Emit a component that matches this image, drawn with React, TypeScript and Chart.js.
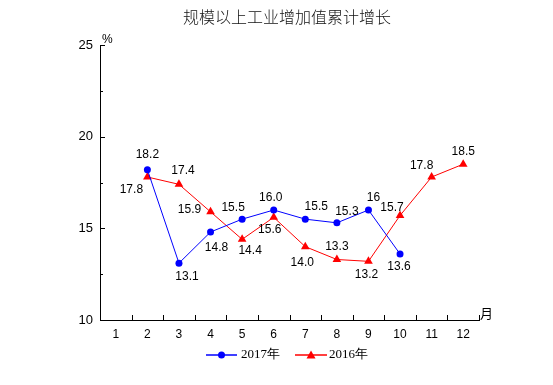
import React, { useEffect, useRef } from "react";
import { Chart, registerables } from "chart.js";

Chart.register(...registerables);

const months = ["1", "2", "3", "4", "5", "6", "7", "8", "9", "10", "11", "12"];
const values2017: (number | null)[] = [null, 18.2, 13.1, 14.8, 15.5, 16.0, 15.5, 15.3, 16, 13.6, null, null];
const values2016: (number | null)[] = [null, 17.8, 17.4, 15.9, 14.4, 15.6, 14.0, 13.3, 13.2, 15.7, 17.8, 18.5];
const labels2017: (string | null)[] = [null, "18.2", "13.1", "14.8", "15.5", "16.0", "15.5", "15.3", "16", "13.6", null, null];
const labels2016: (string | null)[] = [null, "17.8", "17.4", "15.9", "14.4", "15.6", "14.0", "13.3", "13.2", "15.7", "17.8", "18.5"];
const yTicks = [10, 15, 20, 25];

// label offsets (style only)
const off2017: [number, number][] = [[0, 0], [0, -15], [8, 14], [6, 16], [-9, -11], [-3, -12], [11, -12], [10, -11], [5, -12], [-1, 13], [0, 0], [0, 0]];
const off2016: [number, number][] = [[0, 0], [-16, 13], [4, -14], [-21, -2], [8, 11], [-4, 12], [-3, 16], [0, -13], [-2, 13], [-8, -8], [-10, -11], [0, -12]];

const BLUE = "#0000ff";
const RED = "#ff0000";

const decorPlugin = {
  id: "decor",
  afterDraw(chart: any) {
    const ctx = chart.ctx;
    const xs = chart.scales.x;
    const ys = chart.scales.y;
    const area = chart.chartArea;
    ctx.save();
    ctx.strokeStyle = "#000";
    ctx.lineWidth = 1;
    // x ticks inward at category boundaries
    for (let i = 1; i <= months.length; i++) {
      const x = Math.round(xs.getPixelForValue(i - 0.5)) + 0.5;
      ctx.beginPath();
      ctx.moveTo(x, area.bottom);
      ctx.lineTo(x, area.bottom - 5);
      ctx.stroke();
    }
    // y ticks inward
    for (let v = 10; v <= 25; v += 2.5) {
      const y = Math.round(ys.getPixelForValue(v)) + 0.5;
      const major = v % 5 === 0;
      ctx.beginPath();
      ctx.moveTo(area.left, y);
      ctx.lineTo(area.left + (major ? 5 : 3), y);
      ctx.stroke();
    }
    // data labels
    ctx.fillStyle = "#000";
    ctx.font = "12px 'Liberation Sans', Arial, sans-serif";
    ctx.textAlign = "center";
    ctx.textBaseline = "middle";
    const sets: [(string | null)[], [number, number][]][] = [[labels2017, off2017], [labels2016, off2016]];
    sets.forEach(([lbls, offs], di) => {
      const meta = chart.getDatasetMeta(di);
      meta.data.forEach((el: any, i: number) => {
        const t = lbls[i];
        if (t == null) return;
        ctx.fillText(t, el.x + offs[i][0], el.y + offs[i][1]);
      });
    });
    // title
    ctx.font = "300 16px 'Noto Sans CJK SC', sans-serif";
    ctx.fillStyle = "#111";
    ctx.fillText("规模以上工业增加值累计增长", 287, 17);
    ctx.fillStyle = "#000";
    // unit labels
    ctx.font = "12px 'Liberation Sans', Arial, sans-serif";
    ctx.textAlign = "left";
    ctx.textBaseline = "alphabetic";
    ctx.fillText("%", area.left + 2, area.top - 2);
    ctx.font = "13px 'Noto Sans CJK SC', sans-serif";
    ctx.fillText("月", area.right + 1, area.bottom - 2);
    // legend
    const ly = 355;
    ctx.lineWidth = 1.5;
    ctx.strokeStyle = BLUE;
    ctx.beginPath();
    ctx.moveTo(206, ly);
    ctx.lineTo(237, ly);
    ctx.stroke();
    ctx.fillStyle = BLUE;
    ctx.beginPath();
    ctx.arc(221.5, ly, 3.5, 0, Math.PI * 2);
    ctx.fill();
    ctx.strokeStyle = RED;
    ctx.beginPath();
    ctx.moveTo(295, ly);
    ctx.lineTo(327, ly);
    ctx.stroke();
    ctx.fillStyle = RED;
    ctx.beginPath();
    ctx.moveTo(311, ly - 4.5);
    ctx.lineTo(315.5, ly + 3.5);
    ctx.lineTo(306.5, ly + 3.5);
    ctx.closePath();
    ctx.fill();
    ctx.fillStyle = "#000";
    ctx.font = "13px 'Liberation Serif', 'Times New Roman', serif";
    ctx.textBaseline = "middle";
    ctx.fillText("2017年", 241, ly);
    ctx.fillText("2016年", 329, ly);
    ctx.restore();
  },
};

export default function App() {
  const ref = useRef<HTMLCanvasElement>(null);
  useEffect(() => {
    if (!ref.current) return;
    const chart = new Chart(ref.current, {
      type: "line",
      data: {
        labels: months,
        datasets: [
          {
            label: "2017年",
            data: values2017,
            borderColor: BLUE,
            backgroundColor: BLUE,
            borderWidth: 1,
            pointStyle: "circle",
            pointRadius: 3.5,
            pointBorderWidth: 0,
            tension: 0,
          },
          {
            label: "2016年",
            data: values2016,
            borderColor: RED,
            backgroundColor: RED,
            borderWidth: 1,
            pointStyle: "triangle",
            pointRadius: 5,
            pointBorderWidth: 0,
            tension: 0,
          },
        ],
      },
      options: {
        responsive: false,
        animation: false,
        layout: { padding: { left: 0, top: 45, right: 74, bottom: 35 } },
        plugins: { legend: { display: false }, title: { display: false }, tooltip: { enabled: false } },
        scales: {
          x: {
            offset: true,
            grid: { display: false, drawTicks: false, offset: true },
            border: { display: true, color: "#000", width: 1 },
            ticks: { color: "#000", padding: 7, font: { family: "'Liberation Sans', Arial, sans-serif", size: 12 }, maxRotation: 0 },
            afterFit: (s: any) => { s.height = 30; },
          },
          y: {
            min: 10,
            max: 25,
            afterBuildTicks: (s: any) => { s.ticks = yTicks.map((v) => ({ value: v })); },
            grid: { display: false, drawTicks: false },
            border: { display: true, color: "#000", width: 1 },
            ticks: { color: "#000", padding: 7, font: { family: "'Liberation Sans', Arial, sans-serif", size: 13 } },
            afterFit: (s: any) => { s.width = 100; },
          },
        },
      },
      plugins: [decorPlugin],
    });
    return () => chart.destroy();
  }, []);
  return (
    <div style={{ position: "fixed", left: 0, top: 0, width: 553, height: 385, background: "#fff" }}>
      <canvas ref={ref} width={553} height={385} />
    </div>
  );
}
